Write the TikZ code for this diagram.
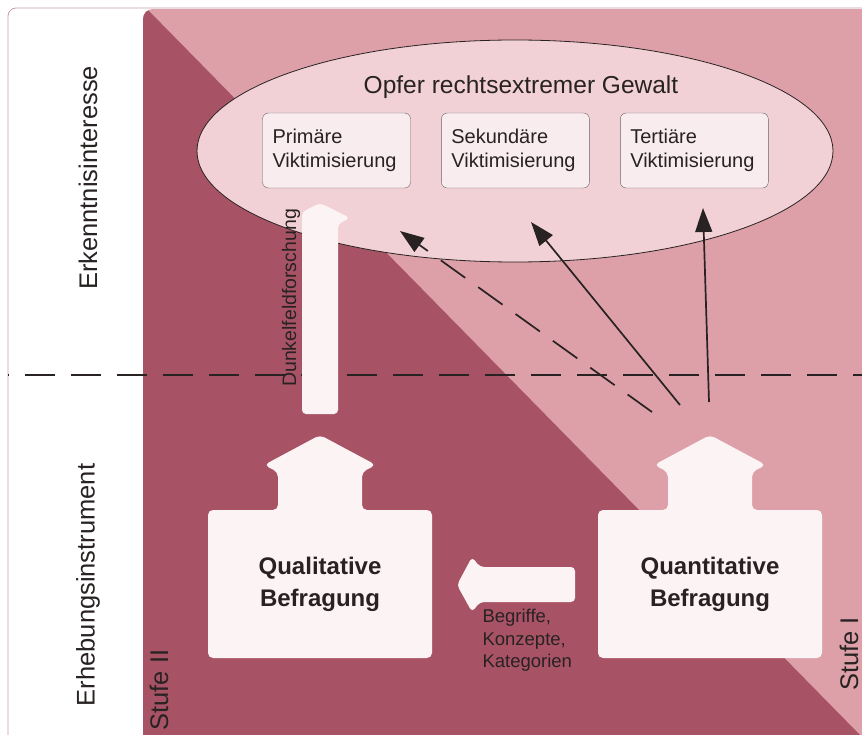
\documentclass[tikz,border=0pt]{standalone}
\usepackage{fontspec}
\setmainfont{Liberation Sans}
\usetikzlibrary{positioning,shapes,arrows.meta}

\definecolor{dunkel}{RGB}{168,83,101}
\definecolor{hell}{RGB}{221,160,169}
\definecolor{blass}{RGB}{242,209,214}
\definecolor{kastenfarbe}{RGB}{249,236,238}
\definecolor{weiss}{RGB}{251,243,244}
\definecolor{schrift}{RGB}{40,34,34}
\definecolor{rahmen}{RGB}{196,160,165}

\begin{document}
\begin{tikzpicture}[x=1pt,y=-1pt,
  node distance=0pt and 30.5pt,
  kasten/.style={draw=schrift!70,thin,fill=kastenfarbe,rounded corners=6pt,inner sep=10pt,
    minimum height=75pt,text width=128pt,align=left,text=schrift,
    font=\fontsize{20}{23.5}\selectfont},
  fahne/.style={fill=weiss,rounded corners=5pt},
  fett/.style={align=center,text=schrift,font=\fontsize{24}{32}\selectfont\bfseries},
  seite/.style={rotate=90,text=schrift,font=\fontsize{25.5}{30}\selectfont},
  pfeil/.style={draw=schrift,line width=1.7pt,-{Triangle[length=24pt,width=17pt]}},
  strich/.style={dash pattern=on 30pt off 16pt}]
\useasboundingbox (0,0) rectangle (862,735);

% hintergrund
\begin{scope}
  \clip[rounded corners=10pt] (143,9) rectangle (900,780);
  \fill[hell] (143,9) rectangle (862,735);
  \fill[dunkel] (143,0) -- (147,9) -- (860,735) -- (143,735) -- cycle;
\end{scope}
\draw[rahmen,line width=0.8pt,rounded corners=8pt] (8,735) -- (8,8) -- (862,8);

\node[seite] (erk) at (88,178) {Erkenntnisinteresse};
\node[seite] (erh) at (88,585) {Erhebungsinstrument};
\node[seite] (stufe2) at (159,690) {Stufe II};
\node[seite,inner sep=1pt] (stufe1) at (849,654) {Stufe I};

\draw[schrift,line width=1.6pt,strich,dash phase=29pt] (8,375) -- (862,375);

% opfer
\node[draw=schrift,line width=0.8pt,fill=blass,ellipse,minimum width=636pt,minimum height=222pt] (opfer) at (515,151) {};
\node[text=schrift,font=\fontsize{24.5}{28}\selectfont] (titel) at (521,87) {Opfer rechtsextremer Gewalt};
\node[kasten] (prim) at (336.5,150.5) {Primäre\\Viktimisierung};
\node[kasten,right=of prim] (sek) {Sekundäre\\Viktimisierung};
\node[kasten,right=of sek] (tert) {Tertiäre\\Viktimisierung};

% dunkelfeld
\fill[fahne,rounded corners=4pt] (302,414) -- (302,212) -- (320,203) -- (350,218) -- (338,224) -- (338,414) -- cycle;
\node[seite,font=\fontsize{19.5}{23}\selectfont] (dunkel) at (291,298) {Dunkelfeldforschung};

% befragungen
\foreach \cx in {320,710}
  \fill[fahne] (\cx-112,658) -- (\cx-112,510) -- (\cx-42,510) -- (\cx-42,472) -- (\cx-56,465)
    -- (\cx,435) -- (\cx+56,465) -- (\cx+42,472) -- (\cx+42,510) -- (\cx+112,510) -- (\cx+112,658) -- cycle;
\node[fett] (quali) at (320,584) {Qualitative\\Befragung};
\node[fett] (quanti) at (710,584) {Quantitative\\Befragung};

\fill[fahne,rounded corners=4pt] (575,567) -- (575,602) -- (480,602) -- (472,612) -- (457,585)
  -- (472,557) -- (480,567) -- cycle;
\node[anchor=north west,align=left,text=schrift,font=\fontsize{18.5}{22.5}\selectfont] (begriffe) at (479,606) {Begriffe,\\Konzepte,\\Kategorien};

\coordinate (s1) at (652,412);
\coordinate (s2) at (680,405);
\coordinate (s3) at (709,402);
\coordinate (z1) at (400,231);
\coordinate (z2) at (531,222);
\coordinate (z3) at (703,208);
\path
  (s1) edge[pfeil,strich] (z1)
  (s2) edge[pfeil] (z2)
  (s3) edge[pfeil] (z3);

\end{tikzpicture}
\end{document}
